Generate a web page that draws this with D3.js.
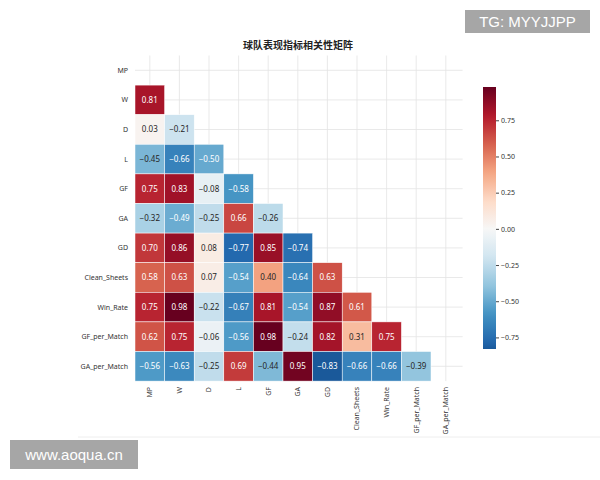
<!DOCTYPE html>
<html>
<head>
<meta charset="utf-8">
<script src="https://cdn.jsdelivr.net/npm/d3@7"></script>
<style>
  body { margin: 0; background: #fff; }
  svg text { font-family: "Noto Sans", "Noto Sans CJK SC", sans-serif; }
</style>
</head>
<body>
<div id="chart"></div>
<script>
var labels = ["MP", "W", "D", "L", "GF", "GA", "GD", "Clean_Sheets", "Win_Rate", "GF_per_Match", "GA_per_Match"];

// lower triangle rows (row i has i values, columns 0..i-1)
var rows = [
    [],
    [0.81],
    [0.03, -0.21],
    [-0.45, -0.66, -0.50],
    [0.75, 0.83, -0.08, -0.58],
    [-0.32, -0.49, -0.25, 0.66, -0.26],
    [0.70, 0.86, 0.08, -0.77, 0.85, -0.74],
    [0.58, 0.63, 0.07, -0.54, 0.40, -0.64, 0.63],
    [0.75, 0.98, -0.22, -0.67, 0.81, -0.54, 0.87, 0.61],
    [0.62, 0.75, -0.06, -0.56, 0.98, -0.24, 0.82, 0.31, 0.75],
    [-0.56, -0.63, -0.25, 0.69, -0.44, 0.95, -0.83, -0.66, -0.66, -0.39]
];
var cbTicks = [0.75, 0.50, 0.25, 0.00, -0.25, -0.50, -0.75];
var vmin = -0.83, vmax = 0.98;

// RdBu_r anchor colours (blue -> red)
var rdbuR = ["#053061", "#2166ac", "#4393c3", "#92c5de", "#d1e5f0", "#f7f7f7",
             "#fddbc7", "#f4a582", "#d6604d", "#b2182b", "#67001f"];

var cells = [];
rows.forEach(function (r, i) {
    r.forEach(function (v, j) {
        cells.push({ row: labels[i], col: labels[j], v: v });
    });
});

var svg = d3.select("#chart").append("svg")
    .attr("width", 600)
    .attr("height", 480);

var gLeft = 135, gTop = 55.5, gSize = 325.6;

var x = d3.scaleBand().domain(labels).range([gLeft, gLeft + gSize]);
var y = d3.scaleBand().domain(labels).range([gTop, gTop + gSize]);

// colormap centred on 0 (symmetric range), piecewise linear like matplotlib
var span = Math.max(Math.abs(vmin), Math.abs(vmax));
var color = d3.scaleLinear()
    .domain(rdbuR.map(function (c, k) { return -span + k * (2 * span) / (rdbuR.length - 1); }))
    .range(rdbuR)
    .interpolate(d3.interpolateRgb)
    .clamp(true);

// grid lines
svg.append("g").selectAll("line")
    .data(labels).enter().append("line")
    .attr("x1", function (d) { return x(d) + x.bandwidth() / 2; })
    .attr("x2", function (d) { return x(d) + x.bandwidth() / 2; })
    .attr("y1", gTop).attr("y2", gTop + gSize)
    .attr("stroke", "#e3e3e3").attr("stroke-width", 0.8);
svg.append("g").selectAll("line")
    .data(labels).enter().append("line")
    .attr("y1", function (d) { return y(d) + y.bandwidth() / 2; })
    .attr("y2", function (d) { return y(d) + y.bandwidth() / 2; })
    .attr("x1", gLeft).attr("x2", gLeft + gSize + 2)
    .attr("stroke", "#e3e3e3").attr("stroke-width", 0.8);

// cells
svg.append("g").selectAll("rect")
    .data(cells).enter().append("rect")
    .attr("x", function (d) { return x(d.col); })
    .attr("y", function (d) { return y(d.row); })
    .attr("width", x.bandwidth())
    .attr("height", y.bandwidth())
    .attr("fill", function (d) { return color(d.v); })
    .attr("stroke", "#fff")
    .attr("stroke-width", 0.5);

function lum(c) {
    var rgb = d3.rgb(c);
    var f = function (u) {
        u = u / 255;
        return u <= 0.03928 ? u / 12.92 : Math.pow((u + 0.055) / 1.055, 2.4);
    };
    return 0.2126 * f(rgb.r) + 0.7152 * f(rgb.g) + 0.0722 * f(rgb.b);
}

svg.append("g").selectAll("text")
    .data(cells).enter().append("text")
    .attr("x", function (d) { return x(d.col) + x.bandwidth() / 2; })
    .attr("y", function (d) { return y(d.row) + y.bandwidth() / 2; })
    .attr("dy", "0.35em")
    .attr("text-anchor", "middle")
    .attr("font-size", 8)
    .attr("fill", function (d) { return lum(color(d.v)) > 0.408 ? "#262626" : "#fff"; })
    .text(function (d) { return d3.format(".2f")(d.v); });

// y labels
svg.append("g").selectAll("text")
    .data(labels).enter().append("text")
    .attr("x", 128)
    .attr("y", function (d) { return y(d) + y.bandwidth() / 2; })
    .attr("dy", "0.35em")
    .attr("text-anchor", "end")
    .attr("font-size", 7)
    .attr("fill", "#333")
    .text(function (d) { return d; });

// x labels
svg.append("g").selectAll("text")
    .data(labels).enter().append("text")
    .attr("transform", function (d) {
        return "translate(" + (x(d) + x.bandwidth() / 2) + ",387) rotate(-90)";
    })
    .attr("dy", "0.35em")
    .attr("text-anchor", "end")
    .attr("font-size", 7)
    .attr("fill", "#333")
    .text(function (d) { return d; });

// title
svg.append("text")
    .attr("x", 298).attr("y", 49)
    .attr("text-anchor", "middle")
    .attr("font-size", 10)
    .attr("font-weight", "bold")
    .attr("fill", "#222")
    .text("球队表现指标相关性矩阵");

// colorbar
var cbX = 483, cbW = 13;
var cy = d3.scaleLinear().domain([vmin, vmax]).range([349, 87]);
var defs = svg.append("defs");
var grad = defs.append("linearGradient").attr("id", "cbgrad")
    .attr("x1", 0).attr("y1", 1).attr("x2", 0).attr("y2", 0);
d3.range(0, 1.0001, 0.02).forEach(function (t) {
    grad.append("stop").attr("offset", t)
        .attr("stop-color", color(vmin + t * (vmax - vmin)));
});
svg.append("rect")
    .attr("x", cbX).attr("y", cy(vmax))
    .attr("width", cbW).attr("height", cy(vmin) - cy(vmax))
    .attr("fill", "url(#cbgrad)");

var cbAxis = svg.append("g")
    .attr("transform", "translate(" + (cbX + cbW) + ",0)")
    .call(d3.axisRight(cy).tickValues(cbTicks).tickFormat(d3.format(".2f")).tickSize(3).tickPadding(2));
cbAxis.select(".domain").remove();
cbAxis.selectAll("line").attr("stroke", "#444");
cbAxis.selectAll("text").attr("font-size", 7).attr("fill", "#333")
    .style("font-family", "'Noto Sans', sans-serif");

// faint frame line
svg.append("line")
    .attr("x1", 78).attr("x2", 600).attr("y1", 437).attr("y2", 437)
    .attr("stroke", "#eeeeee");

// watermarks
svg.append("rect").attr("x", 465).attr("y", 10).attr("width", 125).attr("height", 23).attr("fill", "#a6a6a6");
svg.append("text").attr("x", 527.5).attr("y", 22).attr("dy", "0.35em")
    .attr("text-anchor", "middle").attr("font-size", 15).attr("fill", "#fff")
    .style("font-family", "'Liberation Sans', Arial, sans-serif")
    .text("TG: MYYJJPP");
svg.append("rect").attr("x", 10).attr("y", 440).attr("width", 128).attr("height", 29).attr("fill", "#a6a6a6");
svg.append("text").attr("x", 74).attr("y", 454.5).attr("dy", "0.35em")
    .attr("text-anchor", "middle").attr("font-size", 15).attr("fill", "#fff")
    .style("font-family", "'Liberation Sans', Arial, sans-serif")
    .text("www.aoqua.cn");
</script>
</body>
</html>
